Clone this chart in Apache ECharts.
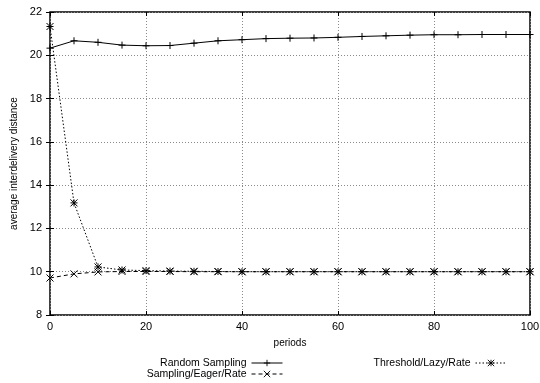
<!DOCTYPE html>
<html>
<head>
<meta charset="utf-8">
<script src="https://cdn.jsdelivr.net/npm/echarts@6/dist/echarts.min.js"></script>
<style>
  html, body { margin: 0; padding: 0; background: #fff; }
  #chart { width: 540px; height: 383px; }
</style>
</head>
<body>
<div id="chart"></div>
<script>
// Sampling periods along the x axis
const periods = [0, 5, 10, 15, 20, 25, 30, 35, 40, 45, 50, 55, 60, 65, 70, 75, 80, 85, 90, 95, 100];

// Average interdelivery distance per strategy
const randomSampling = [20.33, 20.67, 20.60, 20.47, 20.44, 20.45, 20.56, 20.67, 20.72, 20.77, 20.79,
                        20.80, 20.83, 20.87, 20.90, 20.93, 20.95, 20.95, 20.96, 20.96, 20.96];
const samplingEagerRate = [9.71, 9.90, 9.99, 10.01, 10.01, 10.01, 10.00, 10.00, 10.00, 10.00, 10.00,
                           10.00, 10.00, 10.00, 10.00, 10.00, 10.00, 10.00, 10.00, 10.00, 10.00];
const thresholdLazyRate = [21.33, 13.18, 10.22, 10.08, 10.05, 10.03, 10.02, 10.01, 10.00, 10.00, 10.00,
                           10.00, 10.00, 10.00, 10.00, 10.00, 10.00, 10.00, 10.00, 10.00, 10.00];

// Axis ranges
const xTicks = { min: 0, max: 100, interval: 20 };
const yTicks = { min: 8, max: 22, interval: 2 };

const seriesNames = ['Random Sampling', 'Sampling/Eager/Rate', 'Threshold/Lazy/Rate'];

const FONT = '"Liberation Sans", Arial, Helvetica, sans-serif';

const plusPath = 'path://M0,5L10,5M5,0L5,10';
const crossPath = 'path://M0,0L10,10M10,0L0,10';
const starPath = 'path://M0,5L10,5M5,0L5,10M0,0L10,10M10,0L0,10';

function pairs(values) {
  return periods.map((p, i) => [p, values[i]]);
}

function makeSeries(name, values, symbol, dash) {
  return {
    name: name,
    type: 'line',
    xAxisIndex: 0,
    yAxisIndex: 0,
    data: pairs(values),
    symbol: symbol,
    symbolSize: 7,
    showAllSymbol: true,
    color: '#000',
    lineStyle: { color: '#000', width: 1, type: dash },
    itemStyle: { color: '#000', borderColor: '#000', borderWidth: 1 },
    emphasis: { disabled: true },
    animation: false
  };
}

const chart = echarts.init(document.getElementById('chart'), null, { renderer: 'canvas' });

const tickLabel = { color: '#000', fontSize: 11, fontFamily: FONT };
const gridLine = { show: true, lineStyle: { color: '#8a8a8a', width: 1, type: [1, 2] } };

function legendAt(name, right, top) {
  return {
    data: [name],
    orient: 'vertical',
    align: 'right',
    right: right,
    top: top,
    padding: 0,
    itemWidth: 31,
    itemHeight: 8,
    selectedMode: false,
    lineStyle: { width: 1 },
    itemStyle: { borderWidth: 0.9 },
    textStyle: { color: '#000', fontSize: 10.5, fontFamily: FONT }
  };
}

chart.setOption({
  backgroundColor: '#fff',
  animation: false,
  grid: {
    left: 50, right: 10, top: 12, bottom: 68,
    outerBoundsMode: 'none',
    containLabel: false,
    show: true, borderColor: '#000', borderWidth: 1.5, backgroundColor: 'transparent'
  },
  legend: [
    legendAt(seriesNames[0], 257, 357.5),
    legendAt(seriesNames[1], 257, 368.5),
    legendAt(seriesNames[2], 33, 357.5)
  ],
  xAxis: [
    {
      type: 'value', position: 'bottom',
      min: xTicks.min, max: xTicks.max, interval: xTicks.interval,
      name: 'periods', nameLocation: 'middle', nameGap: 23,
      nameTextStyle: { color: '#000', fontSize: 10, fontFamily: FONT },
      axisLine: { show: false },
      axisTick: { show: true, inside: true, length: 4, lineStyle: { color: '#000' } },
      axisLabel: Object.assign({ margin: 6 }, tickLabel),
      splitLine: gridLine
    },
    {
      type: 'value', position: 'top',
      min: xTicks.min, max: xTicks.max, interval: xTicks.interval,
      axisLine: { show: false },
      axisTick: { show: true, inside: true, length: 4, lineStyle: { color: '#000' } },
      axisLabel: { show: false },
      splitLine: { show: false }
    }
  ],
  yAxis: [
    {
      type: 'value', position: 'left',
      min: yTicks.min, max: yTicks.max, interval: yTicks.interval,
      name: 'average interdelivery distance', nameLocation: 'middle', nameGap: 31,
      nameRotate: 90,
      nameTextStyle: { color: '#000', fontSize: 10, fontFamily: FONT },
      axisLine: { show: false },
      axisTick: { show: true, inside: true, length: 4, lineStyle: { color: '#000' } },
      axisLabel: Object.assign({ margin: 8 }, tickLabel),
      splitLine: gridLine
    },
    {
      type: 'value', position: 'right',
      min: yTicks.min, max: yTicks.max, interval: yTicks.interval,
      axisLine: { show: false },
      axisTick: { show: true, inside: true, length: 4, lineStyle: { color: '#000' } },
      axisLabel: { show: false },
      splitLine: { show: false }
    }
  ],
  series: [
    makeSeries(seriesNames[0], randomSampling, plusPath, 'solid'),
    makeSeries(seriesNames[1], samplingEagerRate, crossPath, [4, 3]),
    makeSeries(seriesNames[2], thresholdLazyRate, starPath, [1.5, 2])
  ]
});
</script>
</body>
</html>
